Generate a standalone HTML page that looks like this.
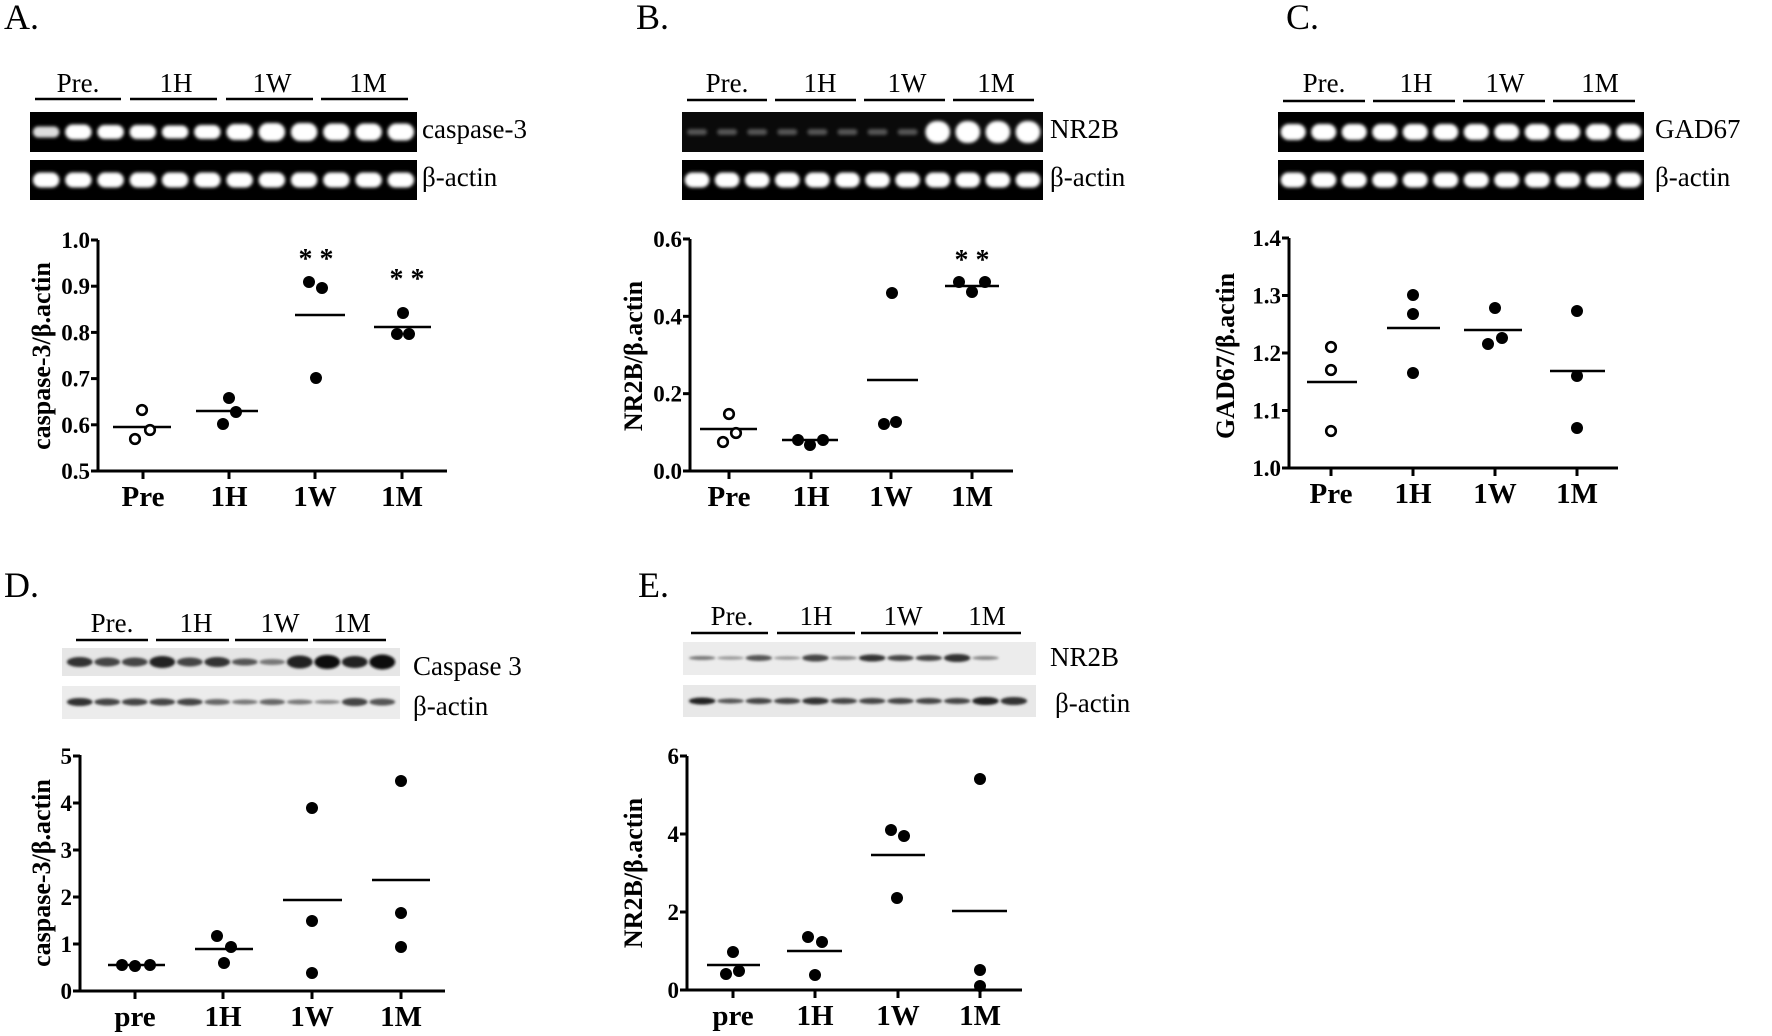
<!DOCTYPE html>
<html><head><meta charset="utf-8"><style>
html,body{margin:0;padding:0;background:#fff;}
svg{display:block;}
text{font-family:"Liberation Serif",serif;fill:#000;}
.pl{font-size:36px;}
.hd{font-size:27px;}
.lb{font-size:27px;}
.tk{font-size:23px;font-weight:bold;}
.ct{font-size:29px;font-weight:bold;}
.yl{font-size:26px;font-weight:bold;}
.st{font-size:28px;font-weight:bold;}
</style></head><body>
<svg id="s" width="1772" height="1036" viewBox="0 0 1772 1036" xmlns="http://www.w3.org/2000/svg">
<defs>
<filter id="bl" x="-20%" y="-50%" width="140%" height="200%"><feGaussianBlur stdDeviation="1.6"/></filter>
<filter id="bl2" x="-20%" y="-80%" width="140%" height="260%"><feGaussianBlur stdDeviation="1.4"/></filter>
</defs>
<g stroke="#000" stroke-width="2.5" fill="none">
<path d="M35 99H121M130 99H217M226 99H313M321 99H408"/>
<path d="M687 100H767M775 100H856M864 100H945M953 100H1034"/>
<path d="M1283 101H1365M1373 101H1455M1463 101H1545M1553 101H1635"/>
<path d="M76 640H148M156 640H229M235 640H308M313 640H386"/>
<path d="M691 633H768M777 633H855M861 633H938M943 633H1021"/>
</g>
<text class="pl" x="4" y="29">A.</text>
<text class="pl" x="636" y="29">B.</text>
<text class="pl" x="1286" y="29">C.</text>
<text class="pl" x="4" y="597">D.</text>
<text class="pl" x="638" y="597">E.</text>
<g class="hd" text-anchor="middle">
<text x="78" y="92" class="hd">Pre.</text><text x="176" y="92" class="hd">1H</text><text x="272" y="92" class="hd">1W</text><text x="368" y="92" class="hd">1M</text>
<text x="727" y="92" class="hd">Pre.</text><text x="820" y="92" class="hd">1H</text><text x="907" y="92" class="hd">1W</text><text x="996" y="92" class="hd">1M</text>
<text x="1324" y="92" class="hd">Pre.</text><text x="1416" y="92" class="hd">1H</text><text x="1505" y="92" class="hd">1W</text><text x="1600" y="92" class="hd">1M</text>
<text x="112" y="632" class="hd">Pre.</text><text x="196" y="632" class="hd">1H</text><text x="280" y="632" class="hd">1W</text><text x="352" y="632" class="hd">1M</text>
<text x="732" y="625" class="hd">Pre.</text><text x="816" y="625" class="hd">1H</text><text x="903" y="625" class="hd">1W</text><text x="987" y="625" class="hd">1M</text>
</g>
<rect x="30" y="112" width="387" height="40" fill="#000"/><rect x="30" y="160" width="387" height="40" fill="#000"/>
<rect x="682" y="112" width="361" height="40" fill="#0a0a0a"/><rect x="682" y="160" width="361" height="40" fill="#000"/>
<rect x="1278" y="112" width="366" height="40" fill="#000"/><rect x="1278" y="160" width="366" height="40" fill="#000"/>
<rect x="62" y="648" width="338" height="28" fill="#e6e6e6"/><rect x="62" y="686" width="338" height="33" fill="#ececec"/>
<rect x="683" y="642" width="353" height="33" fill="#ececec"/><rect x="683" y="685" width="353" height="32" fill="#e8e8e8"/>
<g id="bands"></g>
<text class="lb" x="422" y="138">caspase-3</text><text class="lb" x="422" y="186">β-actin</text>
<text class="lb" x="1050" y="138">NR2B</text><text class="lb" x="1050" y="186">β-actin</text>
<text class="lb" x="1655" y="138">GAD67</text><text class="lb" x="1655" y="186">β-actin</text>
<text class="lb" x="413" y="675">Caspase 3</text><text class="lb" x="413" y="715">β-actin</text>
<text class="lb" x="1050" y="666">NR2B</text><text class="lb" x="1055" y="712">β-actin</text>
<g id="charts"></g>
<text class="yl" text-anchor="middle" transform="translate(50,356) rotate(-90)">caspase-3/β.actin</text>
<text class="yl" text-anchor="middle" transform="translate(642,356) rotate(-90)">NR2B/β.actin</text>
<text class="yl" text-anchor="middle" transform="translate(1234,356) rotate(-90)">GAD67/β.actin</text>
<text class="yl" text-anchor="middle" transform="translate(50,873) rotate(-90)">caspase-3/β.actin</text>
<text class="yl" text-anchor="middle" transform="translate(642,873) rotate(-90)">NR2B/β.actin</text>
<text class="st" x="316" y="268" text-anchor="middle">* *</text>
<text class="st" x="407" y="288" text-anchor="middle">* *</text>
<text class="st" x="972" y="269" text-anchor="middle">* *</text>
</svg>
<script>
var NS="http://www.w3.org/2000/svg";
function el(p,t,a){var e=document.createElementNS(NS,t);for(var k in a)e.setAttribute(k,a[k]);p.appendChild(e);return e;}
var B=document.getElementById('bands');
function pcr(x0,w,yc,opts){var lw=w/12;for(var i=0;i<12;i++){var o=opts?opts(i):{};var bw=(o.w||lw*0.82),bh=(o.h||15);
el(B,'rect',{x:x0+lw*i+(lw-bw)/2,y:yc-bh/2,width:bw,height:bh,rx:bh/2,fill:o.c||'#fff',filter:'url(#bl)'});}}
pcr(30,387,132,function(i){return {h:[11,15,14,14,13,14,16,18,18,17,17,17][i],c:i==0?'#ddd':'#fff'}});
pcr(30,387,180);
pcr(682,361,132,function(i){return i<8?{h:6,c:'#555',w:20}:{h:22,c:'#fff'}});
pcr(682,361,180);
pcr(1278,366,132,function(i){return {h:16}});
pcr(1278,366,180,function(i){return {h:15}});
function wb(x0,w,yc,hs,cs){var lw=w/12;for(var i=0;i<12;i++){if(hs[i]<=0)continue;
el(B,'ellipse',{cx:x0+lw*i+lw/2,cy:yc,rx:lw*0.47,ry:hs[i],fill:cs[i],filter:'url(#bl2)'});}}
wb(66,330,662,[5,4.5,4.5,6,4.5,5,3.5,3,6.5,7,6,7.5],['#333','#444','#444','#222','#444','#333','#555','#777','#222','#111','#222','#111']);
wb(66,330,702,[4,3.5,3.5,3.5,3.5,3,2.5,3,2.5,2,4,3.5],['#333','#444','#444','#444','#444','#666','#777','#666','#777','#888','#444','#555']);
wb(688,340,658,[2,1.8,3,1.8,3.5,2,3.5,3,3,4,2,0],['#777','#999','#555','#999','#444','#888','#333','#444','#444','#333','#888','#fff']);
wb(688,340,701,[3.5,2.5,3,3,3.5,3,3,3,3,3,4,4],['#222','#555','#444','#444','#333','#444','#444','#444','#444','#444','#222','#333']);
var C=document.getElementById('charts');
function chart(c){
 var g=el(C,'g',{});
 el(g,'path',{d:'M'+c.ax+' '+c.top+'V'+c.bot+'H'+c.xend,stroke:'#000','stroke-width':3,fill:'none'});
 c.ticks.forEach(function(t){var y=c.bot-(t-c.min)*c.k;el(g,'path',{d:'M'+(c.ax-7)+' '+y+'H'+c.ax,stroke:'#000','stroke-width':3});
  var tx=el(g,'text',{x:c.ax-8,y:y+8,'text-anchor':'end','class':'tk'});tx.textContent=c.fmt(t);});
 c.cats.forEach(function(x,i){el(g,'path',{d:'M'+x+' '+c.bot+'v8',stroke:'#000','stroke-width':3});
  var tx=el(g,'text',{x:x,y:c.bot+35,'text-anchor':'middle','class':'ct'});tx.textContent=c.names[i];});
 c.means.forEach(function(m){el(g,'path',{d:'M'+m[0]+' '+m[2]+'H'+m[1],stroke:'#000','stroke-width':2.6});});
 c.pts.forEach(function(p){if(p[2])el(g,'circle',{cx:p[0],cy:p[1],r:4.8,fill:'#fff',stroke:'#000','stroke-width':2.6});
  else el(g,'circle',{cx:p[0],cy:p[1],r:6,fill:'#000'});});
}
var f1=function(t){return t.toFixed(1)};
chart({ax:98,top:240,bot:471,xend:447,min:0.5,k:462,ticks:[0.5,0.6,0.7,0.8,0.9,1.0],fmt:f1,
 cats:[143,229,315,402],names:['Pre','1H','1W','1M'],
 means:[[113,171,427],[196,258,411],[295,345,315],[374,431,327]],
 pts:[[142,410,1],[135,439,1],[150,430,1],[229,398],[223,424],[236,412],[309,282],[322,288],[316,378],[403,313],[397,334],[409,334]]});
chart({ax:690,top:239,bot:471,xend:1013,min:0,k:386.7,ticks:[0,0.2,0.4,0.6],fmt:f1,
 cats:[729,811,891,972],names:['Pre','1H','1W','1M'],
 means:[[700,757,429],[782,838,440],[867,918,380],[945,999,286]],
 pts:[[729,414,1],[723,442,1],[736,433,1],[798,440],[810,445],[823,440],[892,293],[884,424],[896,422],[959,282],[985,282],[972,292]]});
chart({ax:1289,top:238,bot:468,xend:1618,min:1.0,k:575,ticks:[1.0,1.1,1.2,1.3,1.4],fmt:f1,
 cats:[1331,1413,1495,1577],names:['Pre','1H','1W','1M'],
 means:[[1307,1357,382],[1387,1440,328],[1464,1522,330],[1550,1605,371]],
 pts:[[1331,347,1],[1331,370,1],[1331,431,1],[1413,295],[1413,314],[1413,373],[1495,308],[1488,344],[1502,338],[1577,311],[1577,376],[1577,428]]});
var f0=function(t){return String(t)};
chart({ax:80,top:755,bot:991,xend:445,min:0,k:47,ticks:[0,1,2,3,4,5],fmt:f0,
 cats:[135,223,312,401],names:['pre','1H','1W','1M'],
 means:[[108,165,965],[195,253,949],[283,342,900],[372,430,880]],
 pts:[[122,965],[135,966],[150,965],[217,936],[231,947],[224,963],[312,808],[312,921],[312,973],[401,781],[401,913],[401,947]]});
chart({ax:687,top:756,bot:990,xend:1022,min:0,k:39,ticks:[0,2,4,6],fmt:f0,
 cats:[733,815,898,980],names:['pre','1H','1W','1M'],
 means:[[707,760,965],[787,842,951],[871,925,855],[952,1007,911]],
 pts:[[733,952],[726,974],[739,971],[808,937],[822,942],[815,975],[891,830],[904,836],[897,898],[980,779],[980,970],[980,986]]});
</script>
</body></html>
